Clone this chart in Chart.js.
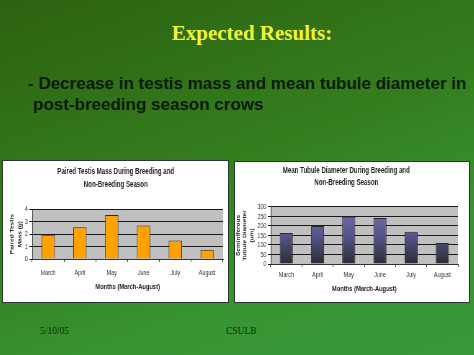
<!DOCTYPE html>
<html>
<head>
<meta charset="utf-8">
<script src="https://cdn.jsdelivr.net/npm/chart.js@4.4.0/dist/chart.umd.min.js"></script>
<style>
html,body{margin:0;padding:0;}
body{width:474px;height:355px;position:relative;overflow:hidden;
 background:linear-gradient(160deg,#2d6210 0%,#347d1f 45%,#389433 75%,#37993a 100%);}
.t{position:absolute;white-space:nowrap;}
#h{left:0;width:504px;text-align:center;top:21px;font:bold 21px "Liberation Serif","Times New Roman",serif;color:#f4f436;}
#b1{left:28px;top:74px;font:bold 17px "Liberation Sans",Arial,sans-serif;color:#0b1a05;}
#b2{left:33px;top:95px;font:bold 17px "Liberation Sans",Arial,sans-serif;color:#0b1a05;}
#f1{left:40px;top:326px;font:9.5px "Liberation Serif",serif;color:#0d2c0a;}
#f2{left:226px;top:326px;font:9.5px "Liberation Serif",serif;color:#0d2c0a;}
.box{position:absolute;background:#fff;border:1px solid #2a3a2a;box-sizing:border-box;}
#box1{left:2px;top:160px;width:227px;height:143px;}
#box2{left:234px;top:161px;width:236px;height:142px;}
.wrap{position:absolute;transform:scaleX(0.72);transform-origin:0 0;}
#w1{left:2px;top:160px;}
#w2{left:234px;top:161px;}
canvas{display:block;}
</style>
</head>
<body>
<div class="t" id="h">Expected Results:</div>
<div class="t" id="b1">- Decrease in testis mass and mean tubule diameter in</div>
<div class="t" id="b2">post-breeding season crows</div>
<div class="t" id="f1">5/10/05</div>
<div class="t" id="f2">CSULB</div>
<div class="box" id="box1"></div>
<div class="box" id="box2"></div>
<div class="wrap" id="w1"><canvas id="c1" width="314" height="142" style="width:314px;height:142px"></canvas></div>
<div class="wrap" id="w2"><canvas id="c2" width="326" height="141" style="width:326px;height:141px"></canvas></div>
<script>
const months = ["March","April","May","June","July","August"];
const testisMass = [1.95, 2.55, 3.55, 2.7, 1.5, 0.75];
const tubuleDiameter = [163, 200, 248, 242, 170, 110];
const testisTicks = {min:0, max:4, step:1};
const tubuleTicks = {min:0, max:300, step:50};

const FONT = '"Liberation Sans",Arial,sans-serif';

const plotBg = {
  id:'plotBg',
  beforeDraw(chart){
    const {ctx, chartArea:a} = chart;
    ctx.save();
    ctx.fillStyle = '#c0c0c0';
    ctx.fillRect(a.left, a.top, a.right-a.left, a.bottom-a.top);
    ctx.restore();
  }
};

function makeChart(id, values, tk, opts){
  return new Chart(document.getElementById(id), {
    type:'bar',
    data:{labels:months, datasets:[{data:values, backgroundColor:opts.bg, borderColor:'#2a2a2a', borderWidth:1, barPercentage:0.42, categoryPercentage:1}]},
    plugins:[plotBg],
    options:{
      responsive:false, animation:false, devicePixelRatio:1,
      layout:{padding:{left:opts.padLeft,right:opts.padRight,top:0,bottom:opts.padBottom}},
      plugins:{
        legend:{display:false}, tooltip:{enabled:false},
        title:{display:true, text:opts.title, color:'#222', font:{family:FONT, size:8.5, weight:'bold', lineHeight:opts.titleLH}, padding:opts.titlePad}
      },
      scales:{
        x:{
          grid:{display:true, drawOnChartArea:false, drawTicks:true, tickLength:3, color:'#333', offset:true},
          border:{display:true, color:'#333'},
          ticks:{color:'#333', font:{family:FONT, size:7.5}, padding:opts.xTickPad, maxRotation:0, autoSkip:false},
          title:{display:true, text:'Months (March-August)', color:'#222', font:{family:FONT, size:8, weight:'bold'}, padding:{top:2, bottom:0}},
          afterFit(s){ s.height = opts.xH; }
        },
        y:{
          min:tk.min, max:tk.max,
          grid:{color:'#1a1a1a', lineWidth:1, tickLength:4, drawTicks:true},
          border:{display:true, color:'#333'},
          ticks:{stepSize:tk.step, color:'#333', font:{family:FONT, size:7.5}, padding:2, autoSkip:false},
          title:{display:true, text:opts.yTitle, color:'#222', font:{family:FONT, size:6.5, weight:'bold', lineHeight:opts.yLH}, padding:{top:0,bottom:0}},
          afterFit(s){ s.width = opts.yW; }
        }
      }
    }
  });
}

makeChart('c1', testisMass, testisTicks, {
  bg:'#ffa200', padLeft:9, padRight:7, padBottom:10,
  title:['Paired Testis Mass During Breeding and','Non-Breeding Season'],
  titleLH:1.55, titlePad:{top:5,bottom:18},
  xTickPad:6, xH:33,
  yTitle:['Paired Testis','Mass (g)'], yLH:1.7, yW:33
});

makeChart('c2', tubuleDiameter, tubuleTicks, {
  bg:function(ctx){
    const ch = ctx.chart, a = ch.chartArea;
    if(!a) return '#6060a0';
    const g = ch.ctx.createLinearGradient(0, a.top, 0, a.bottom);
    g.addColorStop(0, '#7272b6');
    g.addColorStop(0.5, '#55558a');
    g.addColorStop(1, '#2c2c32');
    return g;
  },
  padLeft:1, padRight:15, padBottom:8,
  title:['Mean Tubule Diameter During Breeding and','Non-Breeding Season'],
  titleLH:1.35, titlePad:{top:4,bottom:19},
  xTickPad:3, xH:30,
  yTitle:['Seminiferous','Tubule Diameter','(um)'], yLH:1.5, yW:50
});
</script>
</body>
</html>
